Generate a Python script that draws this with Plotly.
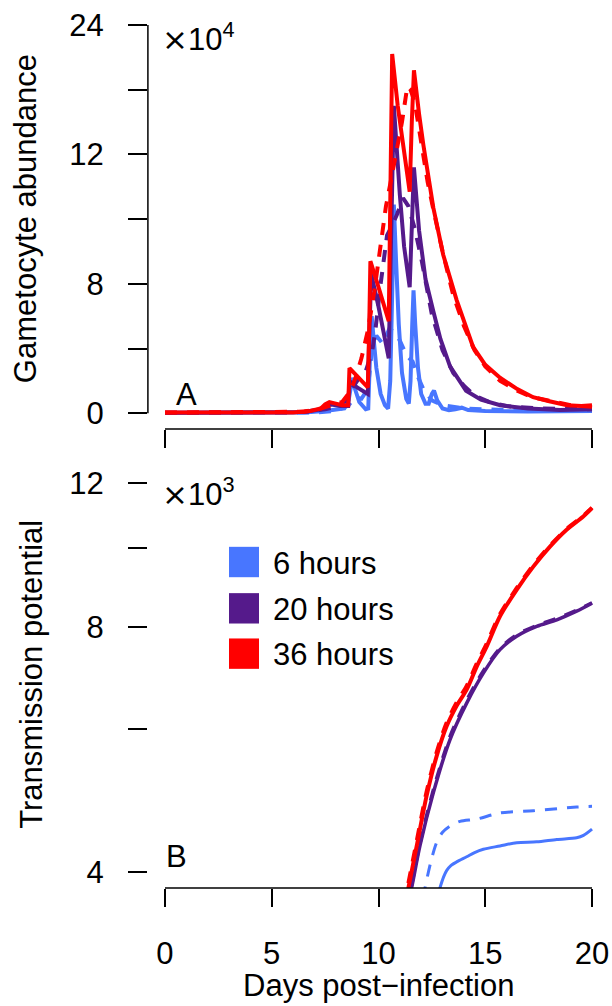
import math
import plotly.graph_objects as go

# ------------------------------------------------------------------
# DATA
# ------------------------------------------------------------------
durations = ["6 hours", "20 hours", "36 hours"]
colors = ["#4876FF", "#551A8B", "#FF0000"]

# Panel A - gametocyte abundance (position on the linear 0-24 axis, x10^4)
a_days_blue_solid = [0, 6.5, 7.5, 8.0, 8.4, 8.6, 8.7, 8.78, 8.9, 9.1, 9.4, 9.52, 9.6, 9.68, 9.78, 9.9,
                     10.1, 10.3, 10.45, 10.55, 10.65, 10.72, 10.82, 10.95, 11.1, 11.3, 11.42, 11.5,
                     11.58, 11.64, 11.72, 11.85, 12.0, 12.2, 12.35, 12.5, 12.6, 12.75, 13.0, 13.3,
                     13.6, 13.9, 14.2, 15.0, 17.0, 20.0]
a_vals_blue_solid = [0.02, 0.05, 0.15, 0.2, 0.3, 0.8, 1.6, 2.2, 1.5, 0.7, 0.25, 0.3, 3.5, 6.0, 4.5, 2.8,
                     1.2, 0.5, 0.3, 2.0, 8.0, 12.9, 9.5, 5.5, 2.5, 0.9, 0.6, 2.0,
                     5.5, 7.6, 5.5, 2.8, 1.2, 0.6, 0.6, 1.2, 1.4, 0.8, 0.3, 0.2,
                     0.25, 0.35, 0.2, 0.15, 0.12, 0.15]

a_days_blue_dash = [0, 7.0, 8.0, 8.6, 8.9, 9.2, 9.5, 9.7, 9.9, 10.2, 10.5, 10.8, 11.0, 11.3, 11.6,
                    11.8, 12.1, 12.5, 13.0, 14.0, 16.0, 20.0]
a_vals_blue_dash = [0.02, 0.05, 0.15, 0.5, 1.0, 0.9, 1.5, 4.0, 4.8, 4.3, 5.2, 5.0, 4.5, 3.6, 3.2,
                    2.4, 1.5, 0.8, 0.5, 0.3, 0.2, 0.2]

a_days_purple_solid = [0, 6.5, 7.3, 7.6, 7.8, 8.2, 8.58, 8.64, 9.0, 9.5, 9.56, 9.66, 10.0, 10.48,
                       10.56, 10.72, 11.0, 11.2, 11.46, 11.56, 11.66, 11.9, 12.2, 12.57, 12.9, 13.35,
                       14.1, 14.8, 15.7, 17.0, 18.5, 20.0]
a_vals_purple_solid = [0.03, 0.08, 0.25, 0.5, 0.55, 0.45, 0.45, 2.0, 1.6, 1.2, 4.5, 8.6, 6.6, 3.4,
                       9.0, 19.0, 13.5, 10.3, 7.8, 11.5, 15.2, 11.3, 8.3, 6.3, 4.6, 2.9,
                       1.4, 0.85, 0.5, 0.3, 0.2, 0.25]

a_days_purple_dash = [0, 6.5, 7.5, 8.0, 8.5, 8.8, 9.1, 9.4, 9.7, 9.85, 10.1, 10.4, 10.6, 10.87, 11.15,
                      11.4, 11.7, 12.0, 12.5, 13.0, 13.5, 14.0, 14.5, 15.2, 16.0, 17.5, 20.0]
a_vals_purple_dash = [0.03, 0.08, 0.25, 0.4, 0.8, 1.6, 2.2, 2.6, 3.8, 5.1, 8.0, 11.0, 11.5, 12.3, 13.3,
                      12.8, 11.4, 9.6, 6.1, 3.9, 2.5, 1.7, 1.1, 0.7, 0.45, 0.3, 0.25]

a_days_red_solid = [0, 6.0, 6.8, 7.3, 7.5, 7.7, 8.0, 8.3, 8.58, 8.64, 9.0, 9.5, 9.56, 9.62, 10.0,
                    10.48, 10.56, 10.64, 10.9, 11.2, 11.46, 11.56, 11.66, 11.9, 12.1, 12.57, 13.03,
                    13.66, 14.43, 15.0, 15.69, 16.5, 17.24, 18.0, 18.83, 19.5, 20.0]
a_vals_red_solid = [0.05, 0.05, 0.15, 0.3, 0.55, 0.7, 0.6, 0.5, 0.5, 2.8, 2.3, 1.6, 5.0, 9.4, 7.8,
                    5.7, 14.0, 22.2, 19.0, 16.0, 13.7, 18.0, 21.2, 18.5, 16.6, 12.7, 9.8,
                    7.0, 4.1, 3.0, 2.2, 1.5, 1.0, 0.75, 0.5, 0.45, 0.5]

a_days_red_dash = [0, 6.5, 7.3, 7.8, 8.3, 8.7, 8.95, 9.2, 9.5, 9.8, 10.1, 10.35, 10.6, 10.85, 11.1,
                   11.35, 11.5, 11.7, 12.0, 12.3, 12.6, 13.0, 13.5, 14.0, 14.5, 15.0, 15.7, 16.5,
                   17.2, 18.0, 19.0, 20.0]
a_vals_red_dash = [0.05, 0.1, 0.3, 0.5, 0.7, 1.4, 2.3, 3.4, 5.1, 7.5, 10.5, 12.8, 14.5, 16.2, 18.0,
                   20.2, 20.0, 19.2, 16.8, 14.3, 12.4, 10.0, 7.3, 5.4, 3.9, 2.9, 2.0, 1.4,
                   1.0, 0.75, 0.5, 0.4]

# Panel B - transmission potential (x10^3, log axis)
b_days_blue_solid = [12.6, 12.88, 13.05, 13.19, 13.4, 13.66, 14.13, 14.5, 14.91, 15.69, 16.47, 17.41,
                     18.35, 19.28, 19.6, 20.0]
b_vals_blue_solid = [3.6, 3.83, 3.95, 4.02, 4.08, 4.12, 4.18, 4.23, 4.27, 4.31, 4.35, 4.36,
                     4.39, 4.41, 4.44, 4.52]

b_days_blue_dash = [11.9, 12.18, 12.45, 12.72, 13.0, 13.35, 13.82, 14.6, 15.69, 17.25, 19.28, 20.0]
b_vals_blue_dash = [3.5, 3.83, 4.12, 4.35, 4.48, 4.56, 4.62, 4.65, 4.73, 4.76, 4.81, 4.82]

b_days_purple_solid = [11.3, 11.55, 11.94, 12.57, 13.35, 14.13, 14.91, 15.69, 16.47, 17.41, 18.35,
                       19.28, 20.0]
b_vals_purple_solid = [3.6, 3.83, 4.31, 5.01, 5.82, 6.45, 7.02, 7.50, 7.79, 8.01, 8.16, 8.36, 8.55]

b_days_purple_dash = [11.3, 11.55, 11.94, 12.57, 13.35, 14.13, 14.91, 15.69, 16.47, 17.41, 18.35,
                      19.28, 20.0]
b_vals_purple_dash = [3.62, 3.86, 4.34, 5.05, 5.87, 6.50, 7.06, 7.53, 7.82, 8.03, 8.19, 8.38, 8.56]

b_days_red_solid = [11.2, 11.40, 11.79, 12.25, 12.72, 13.19, 13.66, 14.13, 14.60, 15.07, 15.69, 16.47,
                    17.25, 18.03, 18.81, 19.59, 20.0]
b_vals_red_solid = [3.6, 3.83, 4.31, 4.96, 5.55, 6.04, 6.40, 6.70, 7.15, 7.57, 8.24, 8.88,
                    9.48, 10.03, 10.52, 10.92, 11.18]

b_days_red_dash = [11.2, 11.40, 11.79, 12.25, 12.72, 13.19, 13.66, 14.13, 14.60, 15.07, 15.69, 16.47,
                   17.25, 18.03, 18.81, 19.59, 20.0]
b_vals_red_dash = [3.65, 3.88, 4.37, 5.02, 5.61, 6.10, 6.46, 6.77, 7.21, 7.63, 8.29, 8.92,
                   9.52, 10.06, 10.54, 10.94, 11.20]

a_tickvals = [0, 8, 16, 24]
a_ticktext = ["0", "8", "12", "24"]
a_minor_tickvals = [4, 12, 20]
b_tickvals = [4, 8, 12]
b_ticktext = ["4", "8", "12"]
b_minor_tickvals = [6, 10]
x_tickvals = [0, 5, 10, 15, 20]
x_ticktext = ["0", "5", "10", "15", "20"]

# ------------------------------------------------------------------
# FIGURE
# ------------------------------------------------------------------
W, H = 612, 1006
FONT = "Liberation Sans, Arial, Helvetica, sans-serif"
FS = 31


def fx(p):
    return p / W


def fy(p):
    return 1 - p / H


fig = go.Figure()

DASH = "12px,10px"
top_series = [
    (a_days_blue_dash, a_vals_blue_dash, 0, DASH),
    (a_days_blue_solid, a_vals_blue_solid, 0, "solid"),
    (a_days_purple_dash, a_vals_purple_dash, 1, DASH),
    (a_days_purple_solid, a_vals_purple_solid, 1, "solid"),
    (a_days_red_dash, a_vals_red_dash, 2, DASH),
    (a_days_red_solid, a_vals_red_solid, 2, "solid"),
]
for d, v, ci, dash in top_series:
    fig.add_trace(go.Scatter(x=d, y=v, mode="lines", xaxis="x", yaxis="y",
                             line=dict(color=colors[ci], width=4, dash=dash),
                             showlegend=False, hoverinfo="skip"))

bottom_widths = [3, 3.5, 4]
bottom_series = [
    (b_days_blue_dash, b_vals_blue_dash, 0, DASH),
    (b_days_blue_solid, b_vals_blue_solid, 0, "solid"),
    (b_days_purple_dash, b_vals_purple_dash, 1, DASH),
    (b_days_purple_solid, b_vals_purple_solid, 1, "solid"),
    (b_days_red_dash, b_vals_red_dash, 2, DASH),
    (b_days_red_solid, b_vals_red_solid, 2, "solid"),
]
for d, v, ci, dash in bottom_series:
    fig.add_trace(go.Scatter(x=d, y=v, mode="lines", xaxis="x2", yaxis="y2",
                             line=dict(color=colors[ci], width=bottom_widths[ci], dash=dash,
                                       shape="spline", smoothing=0.8),
                             showlegend=False, hoverinfo="skip"))

xdom = [fx(147.9), fx(609.1)]
tick_common = dict(ticks="outside", tickcolor="black", tickwidth=1.5, showgrid=False,
                   zeroline=False, showline=False, tickfont=dict(family=FONT, size=FS, color="black"))

fig.update_layout(
    width=W, height=H,
    margin=dict(l=0, r=0, t=0, b=0),
    paper_bgcolor="white", plot_bgcolor="white",
    font=dict(family=FONT, size=FS, color="black"),
    xaxis=dict(domain=xdom, range=[-0.8, 20.8], anchor="y", tickvals=x_tickvals,
               showticklabels=False, ticklen=18, **tick_common),
    yaxis=dict(domain=[fy(428.6), fy(7.4)], range=[-0.96, 24.96], anchor="x",
               tickmode="array", tickvals=a_tickvals, ticktext=a_ticktext, ticklen=19,
               ticklabelstandoff=18,
               minor=dict(tickmode="array", tickvals=a_minor_tickvals, ticks="outside", ticklen=19,
                          tickwidth=1.5, tickcolor="black", showgrid=False),
               **tick_common),
    xaxis2=dict(domain=xdom, range=[-0.8, 20.8], anchor="y2", tickvals=x_tickvals,
                ticktext=x_ticktext, ticklen=18, ticklabelstandoff=20, **tick_common),
    yaxis2=dict(domain=[fy(889.5), fy(467.4)], type="log",
                range=[math.log10(4) - 0.04 * math.log10(3), math.log10(12) + 0.04 * math.log10(3)],
                anchor="x2", tickmode="array", tickvals=b_tickvals, ticktext=b_ticktext, ticklen=19,
                ticklabelstandoff=18,
                minor=dict(tickmode="array", tickvals=b_minor_tickvals, ticks="outside", ticklen=19,
                           tickwidth=1.5, tickcolor="black", showgrid=False),
                **tick_common),
)

AX = dict(color="black", width=1.5)
shapes = [
    dict(type="line", xref="x domain", yref="y", x0=0, x1=0, y0=a_tickvals[0], y1=a_tickvals[-1], line=AX),
    dict(type="line", xref="x", yref="y domain", x0=x_tickvals[0], x1=x_tickvals[-1], y0=0, y1=0, line=AX),
    dict(type="line", xref="x2 domain", yref="y2", x0=0, x1=0,
         y0=math.log10(b_tickvals[0]), y1=math.log10(b_tickvals[-1]), line=AX),
    dict(type="line", xref="x2", yref="y2 domain", x0=x_tickvals[0], x1=x_tickvals[-1], y0=0, y1=0, line=AX),
]

# legend squares
leg_top = [547, 593.5, 639]
for i, c in enumerate(colors):
    shapes.append(dict(type="rect", xref="paper", yref="paper",
                       x0=fx(229), x1=fx(259), y0=fy(leg_top[i] + 30.5), y1=fy(leg_top[i]),
                       fillcolor=c, line=dict(width=0)))
fig.update_layout(shapes=shapes)

ann = []
for i, lab in enumerate(durations):
    ann.append(dict(text=lab, xref="paper", yref="paper", x=fx(270.5), y=fy(leg_top[i] + 16.5),
                    xanchor="left", yanchor="middle", showarrow=False,
                    font=dict(family=FONT, size=FS, color="black")))

TIMES = '<span style="font-family:DejaVu Sans">\u00d7</span>'
ann += [
    dict(text="Gametocyte abundance", xref="paper", yref="paper", x=fx(25), y=fy(218),
         textangle=-90, xanchor="center", yanchor="middle", showarrow=False),
    dict(text="Transmission potential", xref="paper", yref="paper", x=fx(31.5), y=fy(675),
         textangle=-90, xanchor="center", yanchor="middle", showarrow=False),
    dict(text="Days post\u2212infection", xref="paper", yref="paper", x=fx(378.5), y=fy(987),
         xanchor="center", yanchor="middle", showarrow=False),
    dict(text="A", xref="paper", yref="paper", x=fx(186.5), y=fy(394.5),
         xanchor="center", yanchor="middle", showarrow=False),
    dict(text="B", xref="paper", yref="paper", x=fx(176), y=fy(858),
         xanchor="center", yanchor="middle", showarrow=False),
    dict(text=TIMES + "10<sup>4</sup>", xref="paper", yref="paper", x=fx(160), y=fy(57.5),
         xanchor="left", yanchor="bottom", showarrow=False),
    dict(text=TIMES + "10<sup>3</sup>", xref="paper", yref="paper", x=fx(160), y=fy(514.5),
         xanchor="left", yanchor="bottom", showarrow=False),
]
for a in ann:
    a.setdefault("font", dict(family=FONT, size=FS, color="black"))
fig.update_layout(annotations=ann)

fig.write_html("out.html")
